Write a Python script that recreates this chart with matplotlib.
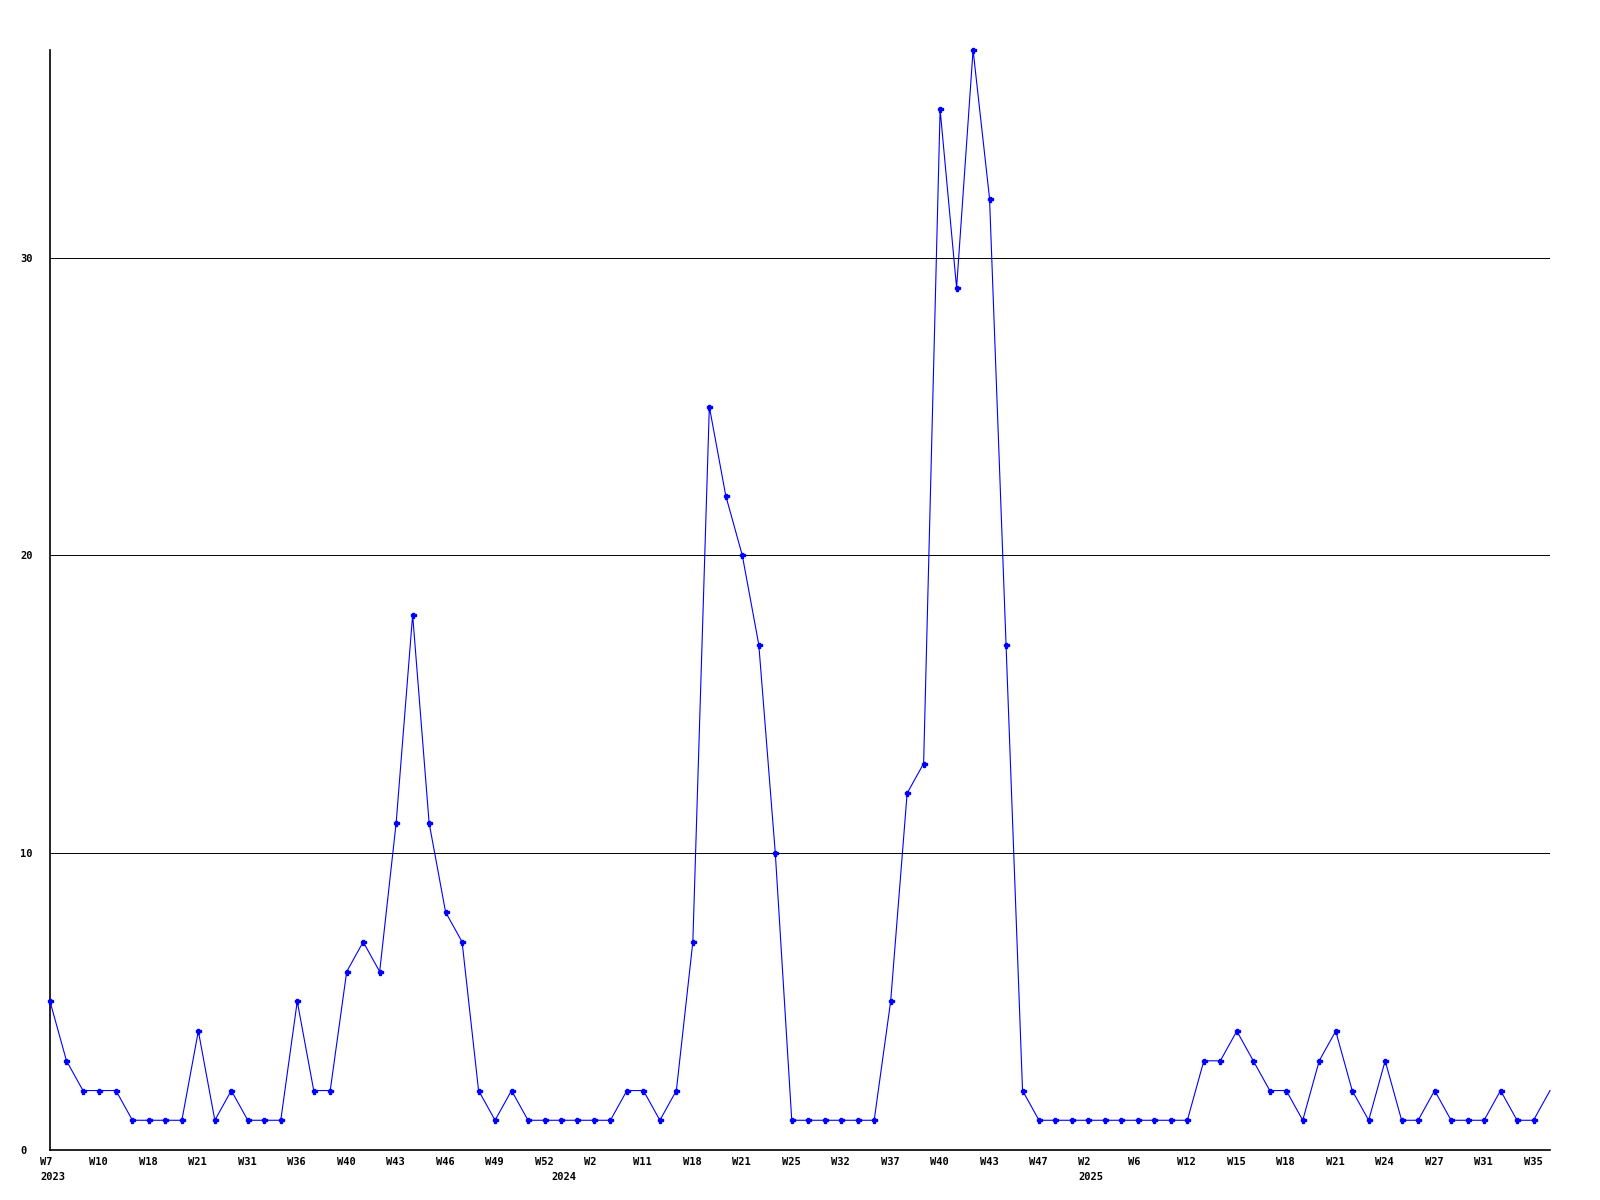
import matplotlib
matplotlib.use('Agg')
import matplotlib.pyplot as plt
from matplotlib.transforms import ScaledTranslation

values = [5, 3, 2, 2, 2, 1, 1, 1, 1, 4, 1, 2, 1, 1, 1, 5, 2, 2, 6, 7,
          6, 11, 18, 11, 8, 7, 2, 1, 2, 1, 1, 1, 1, 1, 1, 2, 2, 1, 2, 7,
          25, 22, 20, 17, 10, 1, 1, 1, 1, 1, 1, 5, 12, 13, 35, 29, 37, 32, 17, 2,
          1, 1, 1, 1, 1, 1, 1, 1, 1, 1, 3, 3, 4, 3, 2, 2, 1, 3, 4, 2,
          1, 3, 1, 1, 2, 1, 1, 1, 2, 1, 1, 2]
tick_labels = ['W7', 'W10', 'W18', 'W21', 'W31', 'W36', 'W40', 'W43', 'W46', 'W49',
               'W52', 'W2', 'W11', 'W18', 'W21', 'W25', 'W32', 'W37', 'W40', 'W43',
               'W47', 'W2', 'W6', 'W12', 'W15', 'W18', 'W21', 'W24', 'W27', 'W31', 'W35']
tick_idx = list(range(0, 3 * len(tick_labels), 3))
year_labels = ['2023', '2024', '2025']
year_idx = [0, 31, 63]
y_ticks = [0, 10, 20, 30]

FONT = dict(family='DejaVu Sans Mono', weight='bold', size=7.5)

fig = plt.figure(figsize=(16, 12), dpi=100)
ax = fig.add_axes([50 / 1600, 50 / 1200, 1500 / 1600, 1100 / 1200])
x = list(range(len(values)))
ax.plot(x, values, color='#0000ff', lw=0.8, marker='P', ms=3.6,
        markevery=list(range(len(values) - 1)), clip_on=False, zorder=3)
ax.set_xlim(0, len(values) - 1)
ax.set_ylim(0, 37)

for s in ['top', 'right']:
    ax.spines[s].set_visible(False)
for s in ['left', 'bottom']:
    ax.spines[s].set_linewidth(1.2)
    ax.spines[s].set_color('black')

ax.set_yticks(y_ticks)
ax.set_yticklabels([str(v) for v in y_ticks], **FONT)
ax.yaxis.grid(True, color='black', lw=0.7)
ax.tick_params(axis='y', length=0, pad=21.6)
for lab in ax.get_yticklabels():
    lab.set_ha('left')

ax.set_xticks(tick_idx)
ax.set_xticklabels(tick_labels, **FONT)
ax.tick_params(axis='x', length=0, pad=5)
shift = ScaledTranslation(-10 / 100, 0, fig.dpi_scale_trans)
for lab in ax.get_xticklabels():
    lab.set_ha('left')
    lab.set_transform(lab.get_transform() + shift)

for yl, yi in zip(year_labels, year_idx):
    ax.annotate(yl, xy=(yi, 0), xycoords=('data', 'axes fraction'),
                xytext=(-10, -27), textcoords='offset pixels',
                ha='left', va='center', **FONT)

fig.savefig('out.png', dpi=100)
